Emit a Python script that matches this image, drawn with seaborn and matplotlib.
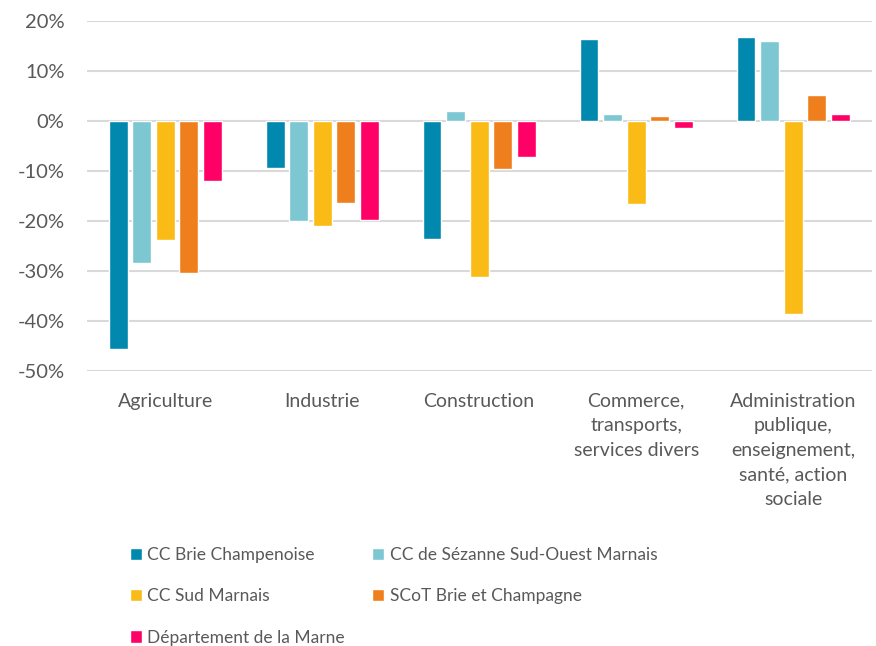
import pandas as pd
import seaborn as sns
import matplotlib.pyplot as plt
from matplotlib.ticker import PercentFormatter

# données (évolution de l'emploi, en %)
secteurs = ["Agriculture", "Industrie", "Construction",
            "Commerce,\ntransports,\nservices divers",
            "Administration\npublique,\nenseignement,\nsanté, action\nsociale"]
territoires = ["CC Brie Champenoise", "CC de Sézanne Sud-Ouest Marnais",
               "CC Sud Marnais", "SCoT Brie et Champagne",
               "Département de la Marne"]
brie_champenoise = [-45.6, -9.4, -23.7, 16.3, 16.7]
sezanne = [-28.4, -20.0, 1.9, 1.3, 15.9]
sud_marnais = [-23.9, -21.0, -31.3, -16.7, -38.7]
scot = [-30.4, -16.5, -9.7, 0.9, 5.2]
marne = [-12.1, -19.9, -7.3, -1.5, 1.3]
couleurs = ["#0088AE", "#7CC7D2", "#FABB16", "#EF7F1C", "#FF0066"]

series = [brie_champenoise, sezanne, sud_marnais, scot, marne]
rows = []
for terr, vals in zip(territoires, series):
    for sect, v in zip(secteurs, vals):
        rows.append({"secteur": sect, "territoire": terr, "valeur": v})
df = pd.DataFrame(rows)

sns.set_style("white")
plt.rcParams['font.family'] = ['Lato', 'DejaVu Sans']
plt.rcParams['axes.unicode_minus'] = False
gris = "#595959"

fig = plt.figure(figsize=(8.76, 6.46), dpi=100)
ax = fig.add_axes([0.099, 0.4257, 0.896, 0.542])

sns.barplot(data=df, x="secteur", y="valeur", hue="territoire",
            hue_order=territoires, palette=couleurs, width=0.75, gap=0.2,
            saturation=1, ax=ax, legend=True)

ax.set_ylim(-50, 20)
ax.set_yticks(range(-50, 21, 10))
ax.yaxis.set_major_formatter(PercentFormatter(decimals=0))
ax.grid(axis="y", color="#D9D9D9", linewidth=1.5)
ax.set_axisbelow(True)
for s in ax.spines.values():
    s.set_visible(False)
ax.set_xlabel("")
ax.set_ylabel("")
ax.tick_params(axis="y", labelsize=14.5, colors=gris, length=0, pad=16)
ax.tick_params(axis="x", labelsize=14, colors=gris, length=0, pad=15.5)
ax.set_xticks(range(len(secteurs)))
ax.set_xticklabels(secteurs, linespacing=1.55)

# légende sur deux colonnes, remplie ligne par ligne
handles, labels = ax.get_legend_handles_labels()
ax.get_legend().remove()
ordre = [0, 2, 4, 1, 3]
fig.legend([handles[i] for i in ordre], [labels[i] for i in ordre],
           loc="upper left", bbox_to_anchor=(0.13, 0.177), ncol=2,
           frameon=False, fontsize=12.5, labelcolor=gris,
           handlelength=0.7, handleheight=0.7, handletextpad=0.3,
           columnspacing=1.6, labelspacing=1.45)

plt.savefig("out.png", dpi=100)
